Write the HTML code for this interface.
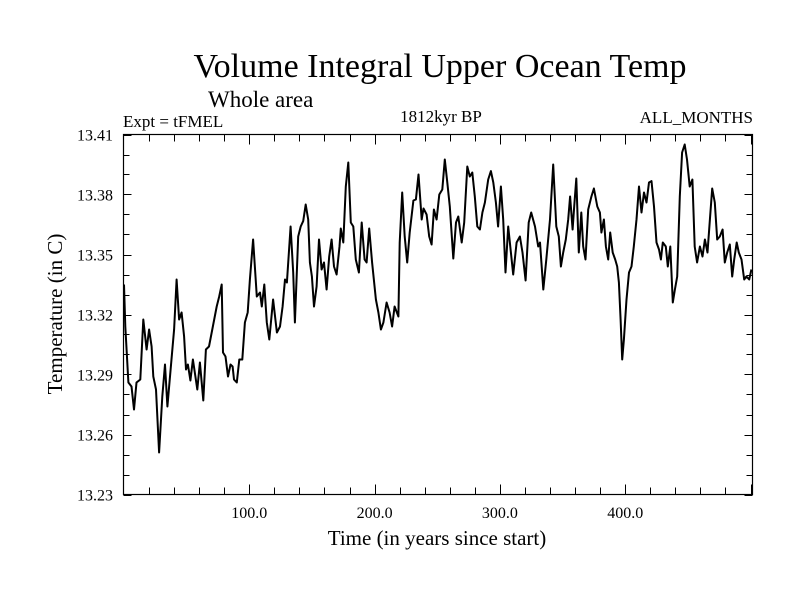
<!DOCTYPE html>
<html><head><meta charset="utf-8"><style>
html,body{margin:0;padding:0;background:#fff;}
svg text{font-family:"Liberation Serif",serif;fill:#000;}
</style></head><body>
<svg id="chart" width="800" height="600" xmlns="http://www.w3.org/2000/svg">
<text x="440" y="77" font-size="34" text-anchor="middle">Volume Integral Upper Ocean Temp</text>
<text x="208" y="107" font-size="23">Whole area</text>
<text x="123" y="127" font-size="17">Expt = tFMEL</text>
<text x="441" y="122" font-size="17" text-anchor="middle">1812kyr BP</text>
<text x="753" y="123" font-size="17" text-anchor="end">ALL_MONTHS</text>
<text x="437" y="545" font-size="21" text-anchor="middle">Time (in years since start)</text>
<text transform="translate(62,314) rotate(-90)" font-size="21" text-anchor="middle">Temperature (in C)</text>
<g id="axes"></g>
<g id="series"></g>
<rect x="123.5" y="134.5" width="629" height="360" fill="none" stroke="#000" stroke-width="1.2"/>
</svg>
<script>
const years=[0,1,3.5,6,8,10,13,15.4,18,20,22,23.4,25.5,28,30.6,32.7,34.6,36.7,40,42,44,46,48,49.5,51,53,55,57,58.5,60.6,63.3,65.4,67.8,70,72,74,76,78,79,81,83,85,86.7,87.8,90,92,94.4,96.5,98.7,100.5,103,106,108.5,110,112,114,116,119,122,124.5,126.6,128.5,130,133,135,136.4,139,141,143,145,147,148.4,150,151.6,153.7,155.6,157.7,159.6,161.7,163.8,165.7,167.6,169.7,172,173,175,177,179,181,183,185,187.5,189.7,192,193.6,195.7,198,201,203,205,207,209.6,212,214,216,219,220,222,224,226,228,231,233,235,237.6,239,241.5,243.6,245.5,247.3,249.5,251.6,254,256,258,260,262.8,265,266.8,269.5,271.5,274,276,278,280,282,284,286,288,290.7,292.8,294.7,296.8,298.6,300.8,302.6,304.5,306.6,308.8,310.6,313.3,316,318,320.5,323,325,328,330.6,332,334.6,337,340,342.5,345,347,348.7,350.5,352.6,354.5,356,358,359.3,361,363,365,366.5,368.3,370.5,373,375,377.7,379.8,381,383,384.6,386.4,388,390,392,393.6,395,396.3,397.6,399,401,403,405,406.9,409,411,413,415,417,419,421,423,425,427,428.5,430,432.4,434,436,438,439.7,441.5,443.6,445.4,447.5,449.3,451.5,453.6,455.5,457.4,459.6,461.7,463.6,465.7,467.6,469.4,471.5,473.4,475.5,477.7,479.5,481.4,483.5,485.4,487,489,490.7,492.8,495,496.7,499,500.7];
const temps=[13.335,13.314,13.286,13.284,13.2725,13.286,13.2875,13.3175,13.3025,13.3125,13.304,13.289,13.2825,13.251,13.279,13.295,13.274,13.289,13.3125,13.3375,13.3175,13.321,13.309,13.2925,13.295,13.287,13.2975,13.289,13.2825,13.296,13.277,13.3025,13.304,13.311,13.3175,13.324,13.329,13.335,13.301,13.299,13.289,13.295,13.294,13.2875,13.286,13.2975,13.2975,13.316,13.321,13.3375,13.3575,13.329,13.331,13.324,13.335,13.316,13.3075,13.3275,13.311,13.314,13.324,13.3375,13.336,13.364,13.341,13.316,13.359,13.364,13.3667,13.375,13.3675,13.346,13.339,13.324,13.334,13.3575,13.3425,13.346,13.3325,13.349,13.3575,13.344,13.34,13.354,13.363,13.356,13.384,13.396,13.366,13.364,13.3475,13.341,13.366,13.3475,13.346,13.363,13.346,13.3275,13.321,13.3125,13.316,13.326,13.321,13.314,13.324,13.319,13.356,13.381,13.359,13.346,13.361,13.377,13.3775,13.39,13.3675,13.373,13.37,13.359,13.355,13.3725,13.3675,13.38,13.3825,13.3975,13.386,13.374,13.348,13.366,13.369,13.356,13.366,13.394,13.389,13.391,13.379,13.364,13.3625,13.371,13.376,13.3875,13.3917,13.386,13.376,13.364,13.384,13.3675,13.341,13.364,13.351,13.34,13.356,13.359,13.351,13.337,13.366,13.371,13.364,13.354,13.356,13.3325,13.3475,13.3675,13.395,13.364,13.359,13.344,13.351,13.3575,13.3675,13.379,13.3625,13.374,13.388,13.351,13.371,13.354,13.3475,13.3725,13.379,13.383,13.374,13.371,13.361,13.3675,13.354,13.3475,13.361,13.351,13.3475,13.344,13.336,13.3175,13.2975,13.3075,13.3275,13.341,13.344,13.354,13.3675,13.384,13.371,13.381,13.376,13.386,13.3867,13.374,13.356,13.3525,13.3475,13.356,13.354,13.344,13.354,13.326,13.3325,13.339,13.379,13.401,13.405,13.3975,13.384,13.3875,13.354,13.346,13.354,13.349,13.3575,13.351,13.3675,13.383,13.376,13.3575,13.359,13.3625,13.346,13.351,13.355,13.339,13.3475,13.356,13.351,13.3475,13.3375,13.339,13.3375,13.3425];
const yTickLabels=["13.23","13.26","13.29","13.32","13.35","13.38","13.41"];
const xTickLabels=["100.0","200.0","300.0","400.0"];

const X0=124, XS=1.253, YB=494.5, YMIN=13.23, YS=2000;
function xs(t){return X0+t*XS;}
function ys(v){return YB-(v-YMIN)*YS;}
const NS="http://www.w3.org/2000/svg";
const axes=document.getElementById('axes');
function line(x1,y1,x2,y2,name){
  const l=document.createElementNS(NS,'line');
  l.setAttribute('x1',x1);l.setAttribute('y1',y1);l.setAttribute('x2',x2);l.setAttribute('y2',y2);
  l.setAttribute('stroke','#000');l.setAttribute('stroke-width','1');
  
  
  axes.appendChild(l);
}
// y minor ticks every 0.01
for(let i=0;i<=18;i++){
  const y=Math.round(ys(YMIN+i*0.01))+0.5;
  const len=(i%3===0)?8:6;
  line(123.5,y,123.5+len,y,'y-tick');
  line(752.5,y,752.5-len,y,'y-tick-right');
}
yTickLabels.forEach(s=>{
  const t=document.createElementNS(NS,'text');
  t.setAttribute('x',113);t.setAttribute('y',ys(parseFloat(s))+6);
  t.setAttribute('font-size','16');t.setAttribute('text-anchor','end');
  t.textContent=s;
  
  
  axes.appendChild(t);
});
for(let yr=20;yr<=500;yr+=20){
  const x=Math.round(xs(yr))+0.5;
  const len=(yr%100===0)?10:7;
  line(x,494.5,x,494.5-len,'x-tick');
  line(x,134.5,x,134.5+len,'x-tick-top');
}
xTickLabels.forEach(s=>{
  const t=document.createElementNS(NS,'text');
  t.setAttribute('x',xs(parseFloat(s)));t.setAttribute('y',518);
  t.setAttribute('font-size','16');t.setAttribute('text-anchor','middle');
  t.textContent=s;
  
  
  axes.appendChild(t);
});
const p=document.createElementNS(NS,'path');
p.setAttribute('d',years.map((t,i)=>(i?'L':'M')+xs(t).toFixed(1)+' '+ys(temps[i]).toFixed(1)).join(' '));
p.setAttribute('fill','none');p.setAttribute('stroke','#000');p.setAttribute('stroke-width','2');
p.setAttribute('stroke-linejoin','round');


document.getElementById('series').appendChild(p);
</script>
</body></html>
